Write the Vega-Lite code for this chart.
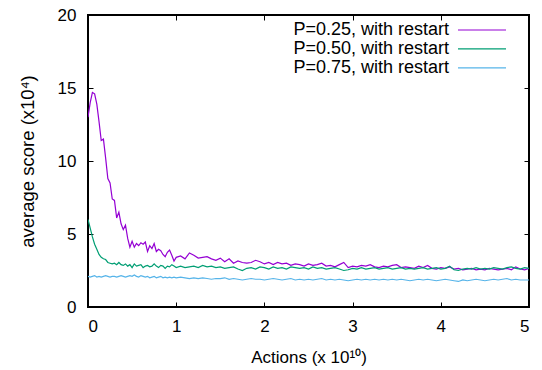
{
  "$schema": "https://vega.github.io/schema/vega-lite/v6.json",
  "width": 441,
  "height": 292,
  "autosize": {"type": "none"},
  "padding": {"left": 88, "top": 15, "right": 13, "bottom": 63},
  "background": "white",
  "config": {
    "view": {"stroke": "black", "strokeWidth": 2},
    "font": "Liberation Sans",
    "axis": {
      "grid": false,
      "domain": false,
      "tickColor": "black",
      "tickSize": -5,
      "tickWidth": 1,
      "labelColor": "black",
      "labelFont": "Liberation Sans",
      "labelFontSize": 17,
      "titleColor": "black",
      "titleFont": "Liberation Sans",
      "titleFontSize": 17,
      "titleFontWeight": "normal"
    }
  },
  "data": {
    "values": [
      {"x":0,"a":13.0,"b":6.0,"c":2.1},
      {"x":0.025,"a":14.0,"b":5.4,"c":2.05},
      {"x":0.05,"a":14.7,"b":4.8,"c":2.1},
      {"x":0.075,"a":14.6,"b":4.3,"c":2.15},
      {"x":0.1,"a":13.9,"b":3.95,"c":2.05},
      {"x":0.125,"a":12.7,"b":3.6,"c":2.1},
      {"x":0.15,"a":11.4,"b":3.4,"c":2.05},
      {"x":0.175,"a":11.5,"b":3.3,"c":2.1},
      {"x":0.2,"a":10.2,"b":3.25,"c":2.15},
      {"x":0.225,"a":8.8,"b":3.05,"c":2.1},
      {"x":0.25,"a":8.5,"b":3.0,"c":2.05},
      {"x":0.275,"a":7.4,"b":2.95,"c":2.1},
      {"x":0.3,"a":7.3,"b":3.0,"c":2.1},
      {"x":0.325,"a":6.1,"b":2.9,"c":2.05},
      {"x":0.35,"a":6.5,"b":3.05,"c":2.1},
      {"x":0.375,"a":5.7,"b":2.9,"c":2.15},
      {"x":0.4,"a":5.3,"b":2.85,"c":2.1},
      {"x":0.425,"a":5.6,"b":2.95,"c":2.05},
      {"x":0.45,"a":4.7,"b":2.8,"c":2.1},
      {"x":0.475,"a":4.1,"b":2.9,"c":2.15},
      {"x":0.5,"a":4.5,"b":2.7,"c":2.1},
      {"x":0.525,"a":4.1,"b":2.95,"c":2.2},
      {"x":0.55,"a":4.35,"b":2.8,"c":2.1},
      {"x":0.575,"a":4.2,"b":2.85,"c":2.05},
      {"x":0.6,"a":4.4,"b":2.9,"c":2.15},
      {"x":0.625,"a":4.3,"b":2.7,"c":2.1},
      {"x":0.65,"a":4.45,"b":2.8,"c":2.05},
      {"x":0.675,"a":3.8,"b":2.85,"c":2.1},
      {"x":0.7,"a":4.2,"b":2.75,"c":2.0},
      {"x":0.725,"a":4.0,"b":2.8,"c":2.05},
      {"x":0.75,"a":4.35,"b":2.95,"c":2.1},
      {"x":0.775,"a":3.8,"b":2.8,"c":2.0},
      {"x":0.8,"a":3.95,"b":2.7,"c":2.05},
      {"x":0.825,"a":3.85,"b":2.85,"c":2.1},
      {"x":0.85,"a":3.6,"b":2.8,"c":2.0},
      {"x":0.875,"a":3.45,"b":2.65,"c":2.05},
      {"x":0.9,"a":3.75,"b":2.8,"c":2.0},
      {"x":0.925,"a":3.9,"b":2.75,"c":2.05},
      {"x":0.95,"a":3.55,"b":2.9,"c":2.0},
      {"x":0.975,"a":3.15,"b":2.8,"c":2.05},
      {"x":1.0,"a":3.4,"b":2.7,"c":2.0},
      {"x":1.05,"a":3.5,"b":2.8,"c":2.05},
      {"x":1.1,"a":3.3,"b":2.7,"c":2.0},
      {"x":1.15,"a":3.7,"b":2.75,"c":1.95},
      {"x":1.2,"a":3.55,"b":2.8,"c":2.0},
      {"x":1.25,"a":3.35,"b":2.7,"c":1.95},
      {"x":1.3,"a":3.4,"b":2.85,"c":2.0},
      {"x":1.35,"a":3.45,"b":2.75,"c":1.95},
      {"x":1.4,"a":3.3,"b":2.8,"c":1.9},
      {"x":1.45,"a":3.2,"b":2.7,"c":1.95},
      {"x":1.5,"a":3.35,"b":2.75,"c":1.95},
      {"x":1.55,"a":3.1,"b":2.65,"c":2.0},
      {"x":1.6,"a":3.3,"b":2.7,"c":1.9},
      {"x":1.65,"a":3.0,"b":2.75,"c":1.95},
      {"x":1.7,"a":3.15,"b":2.6,"c":1.9},
      {"x":1.75,"a":3.05,"b":2.5,"c":1.85},
      {"x":1.8,"a":3.0,"b":2.65,"c":1.9},
      {"x":1.85,"a":3.05,"b":2.7,"c":1.95},
      {"x":1.9,"a":3.2,"b":2.6,"c":1.9},
      {"x":1.95,"a":3.1,"b":2.75,"c":1.9},
      {"x":2.0,"a":2.95,"b":2.7,"c":1.85},
      {"x":2.05,"a":3.05,"b":2.6,"c":1.9},
      {"x":2.1,"a":2.9,"b":2.75,"c":1.95},
      {"x":2.15,"a":3.05,"b":2.65,"c":1.9},
      {"x":2.2,"a":2.95,"b":2.7,"c":1.85},
      {"x":2.25,"a":3.0,"b":2.6,"c":1.9},
      {"x":2.3,"a":2.85,"b":2.75,"c":1.95},
      {"x":2.35,"a":2.95,"b":2.7,"c":1.85},
      {"x":2.4,"a":2.9,"b":2.65,"c":1.9},
      {"x":2.45,"a":2.8,"b":2.7,"c":1.85},
      {"x":2.5,"a":2.95,"b":2.6,"c":1.9},
      {"x":2.55,"a":2.85,"b":2.75,"c":1.85},
      {"x":2.6,"a":2.9,"b":2.65,"c":1.9},
      {"x":2.65,"a":3.0,"b":2.7,"c":1.95},
      {"x":2.7,"a":2.8,"b":2.6,"c":1.85},
      {"x":2.75,"a":2.85,"b":2.65,"c":1.9},
      {"x":2.8,"a":2.75,"b":2.7,"c":1.85},
      {"x":2.85,"a":2.9,"b":2.6,"c":1.9},
      {"x":2.9,"a":3.05,"b":2.5,"c":1.85},
      {"x":2.95,"a":2.7,"b":2.55,"c":1.8},
      {"x":3.0,"a":2.8,"b":2.65,"c":1.85},
      {"x":3.05,"a":2.75,"b":2.6,"c":1.9},
      {"x":3.1,"a":2.85,"b":2.7,"c":1.85},
      {"x":3.15,"a":2.8,"b":2.6,"c":1.9},
      {"x":3.2,"a":2.9,"b":2.65,"c":1.85},
      {"x":3.25,"a":2.75,"b":2.7,"c":1.9},
      {"x":3.3,"a":2.7,"b":2.6,"c":1.85},
      {"x":3.35,"a":2.8,"b":2.65,"c":1.9},
      {"x":3.4,"a":2.75,"b":2.7,"c":1.85},
      {"x":3.45,"a":2.85,"b":2.6,"c":1.9},
      {"x":3.5,"a":2.9,"b":2.65,"c":1.85},
      {"x":3.55,"a":2.7,"b":2.7,"c":1.9},
      {"x":3.6,"a":2.75,"b":2.6,"c":1.85},
      {"x":3.65,"a":2.7,"b":2.65,"c":1.8},
      {"x":3.7,"a":2.65,"b":2.6,"c":1.85},
      {"x":3.75,"a":2.8,"b":2.65,"c":1.9},
      {"x":3.8,"a":2.7,"b":2.7,"c":1.85},
      {"x":3.85,"a":2.85,"b":2.6,"c":1.9},
      {"x":3.9,"a":2.65,"b":2.65,"c":1.85},
      {"x":3.95,"a":2.6,"b":2.7,"c":1.8},
      {"x":4.0,"a":2.7,"b":2.6,"c":1.85},
      {"x":4.05,"a":2.65,"b":2.65,"c":1.9},
      {"x":4.1,"a":2.75,"b":2.8,"c":1.85},
      {"x":4.15,"a":2.6,"b":2.55,"c":1.8},
      {"x":4.2,"a":2.65,"b":2.5,"c":1.75},
      {"x":4.25,"a":2.55,"b":2.6,"c":1.85},
      {"x":4.3,"a":2.6,"b":2.65,"c":1.8},
      {"x":4.35,"a":2.65,"b":2.6,"c":1.85},
      {"x":4.4,"a":2.55,"b":2.7,"c":1.9},
      {"x":4.45,"a":2.6,"b":2.6,"c":1.85},
      {"x":4.5,"a":2.55,"b":2.65,"c":1.8},
      {"x":4.55,"a":2.65,"b":2.6,"c":1.85},
      {"x":4.6,"a":2.6,"b":2.7,"c":1.9},
      {"x":4.65,"a":2.55,"b":2.65,"c":1.85},
      {"x":4.7,"a":2.6,"b":2.6,"c":1.9},
      {"x":4.75,"a":2.65,"b":2.7,"c":1.95},
      {"x":4.8,"a":2.55,"b":2.75,"c":1.85},
      {"x":4.85,"a":2.75,"b":2.65,"c":1.9},
      {"x":4.9,"a":2.6,"b":2.6,"c":1.85},
      {"x":4.95,"a":2.55,"b":2.7,"c":1.85},
      {"x":5.0,"a":2.65,"b":2.65,"c":1.85}
    ]
  },
  "transform": [{"fold": ["a", "b", "c"], "as": ["series", "v"]}],
  "layer": [
    {
      "mark": {"type": "line", "strokeWidth": 1.2, "clip": true},
      "encoding": {
        "x": {
          "field": "x", "type": "quantitative",
          "scale": {"domain": [0, 5], "nice": false, "zero": false},
          "axis": {
            "orient": "bottom",
            "values": [0, 1, 2, 3, 4, 5],
            "labelPadding": 16,
            "title": "Actions (x 10¹⁰)",
            "titleY": 55,
            "titleBaseline": "alphabetic"
          }
        },
        "y": {
          "field": "v", "type": "quantitative",
          "scale": {"domain": [0, 20], "nice": false},
          "axis": {
            "orient": "left",
            "values": [0, 5, 10, 15, 20],
            "labelPadding": 17,
            "title": "average score (x10⁴)",
            "titleFontSize": 18.5,
            "titleX": -61,
            "titleY": 146,
            "titleAngle": -90,
            "titleAlign": "center",
            "titleBaseline": "middle"
          }
        },
        "color": {
          "field": "series", "type": "nominal",
          "scale": {"domain": ["a", "b", "c"], "range": ["#9400d3", "#009e73", "#56b4e9"]},
          "legend": {
            "orient": "none",
            "legendX": 385,
            "legendY": 6,
            "title": null,
            "padding": 0,
            "labelFont": "Liberation Sans",
            "labelFontSize": 18,
            "labelColor": "black",
            "labelAlign": "right",
            "labelOffset": -42,
            "labelLimit": 400,
            "symbolType": "M-12,0H12",
            "symbolSize": 16,
            "symbolStrokeWidth": 1.2,
            "rowPadding": 0.9,
            "labelExpr": "datum.value == 'a' ? 'P=0.25, with restart' : datum.value == 'b' ? 'P=0.50, with restart' : 'P=0.75, with restart'"
          }
        }
      }
    },
    {
      "mark": {"type": "line", "opacity": 0},
      "encoding": {
        "x": {
          "field": "x", "type": "quantitative",
          "axis": {"orient": "top", "values": [0, 1, 2, 3, 4, 5], "labels": false, "title": null}
        },
        "y": {
          "field": "v", "type": "quantitative",
          "axis": {"orient": "right", "values": [0, 5, 10, 15, 20], "labels": false, "title": null}
        },
        "detail": {"field": "series"}
      }
    }
  ],
  "resolve": {"axis": {"x": "independent", "y": "independent"}}
}
